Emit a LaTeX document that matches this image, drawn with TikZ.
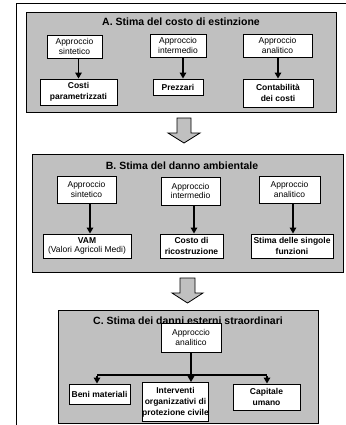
\documentclass[tikz,border=0pt]{standalone}
\usepackage{fontspec}
\setmainfont{Liberation Sans}
\usetikzlibrary{arrows.meta}
\definecolor{panelgray}{RGB}{192,192,192}
\begin{document}
\begin{tikzpicture}[x=1pt,y=-1pt,
  panel/.style={draw=black, line width=0.9pt, fill=panelgray, inner sep=0pt},
  box/.style={draw=black, line width=0.9pt, fill=white, inner sep=0pt, align=center, font=\fontsize{8.5}{9.8}\selectfont},
  bbox/.style={box, font=\fontsize{8.5}{10.8}\selectfont\bfseries},
  ttl/.style={font=\fontsize{10.5}{12}\selectfont\bfseries, inner sep=0pt},
  arr/.style={line width=1.8pt, -{Triangle[width=6.5pt,length=6pt]}},
  thick line/.style={line width=1.8pt},
  blockarrow/.style={draw=black, line width=0.8pt, fill=panelgray}
]
\useasboundingbox (0,0) rectangle (345,425);
\fill[white] (0,0) rectangle (345,425);
% outer frame
\draw[line width=0.9pt] (16,3) rectangle (360,440);

% ---------- Panel A ----------
\node[panel, minimum width=310pt, minimum height=100pt] (pA) at (181,62) {};
\node[ttl] (tA) at (181,22) {A. Stima del costo di estinzione};
\node[box, minimum width=55pt, minimum height=23pt] (a1) at (74.5,46.5) {Approccio\\sintetico};
\node[box, minimum width=56pt, minimum height=23pt] (a2) at (178,45.5) {Approccio\\intermedio};
\node[box, minimum width=69pt, minimum height=23pt] (a3) at (277.5,45.5) {Approccio\\analitico};
\node[bbox, minimum width=77pt, minimum height=26pt] (a4) at (78.5,92) {Costi\\parametrizzati};
\node[bbox, minimum width=50pt, minimum height=16pt] (a5) at (178,87) {Prezzari};
\node[bbox, minimum width=70pt, minimum height=28pt] (a6) at (278,93) {Contabilità\\dei costi};
\draw[arr] (a1.south -| a4.north) -- (a4.north);
\draw[arr] ([xshift=5pt]a2.south) -- ([xshift=5pt]a5.north);
\draw[arr] (a3.south -| a6.north) -- (a6.north);

% block arrow A -> B
\draw[blockarrow] (177,118) -- (191,118) -- (191,133) -- (200,133) -- (184,143) -- (168,133) -- (177,133) -- cycle;

% ---------- Panel B ----------
\node[panel, minimum width=311pt, minimum height=118pt] (pB) at (187.5,213) {};
\node[ttl] (tB) at (182,166) {B. Stima del danno ambientale};
\node[box, minimum width=59pt, minimum height=27pt] (b1) at (86.5,189.5) {Approccio\\sintetico};
\node[box, minimum width=59pt, minimum height=28pt] (b2) at (190.5,191) {Approccio\\intermedio};
\node[box, minimum width=61pt, minimum height=27pt] (b3) at (289.5,189.5) {Approccio\\analitico};
\node[box, minimum width=88pt, minimum height=24pt] (b4) at (87,246) {{\bfseries VAM}\\(Valori Agricoli Medi)};
\node[bbox, minimum width=63pt, minimum height=24pt] (b5) at (191.5,246) {Costo di\\ricostruzione};
\node[bbox, minimum width=82pt, minimum height=24pt] (b6) at (292,246) {Stima delle singole\\funzioni};
\draw[arr] ([xshift=3.5pt]b1.south) -- ([xshift=3pt]b4.north);
\draw[arr] ([xshift=3.5pt]b2.south) -- ([xshift=2.5pt]b5.north);
\draw[arr] ([xshift=3.5pt]b3.south) -- ([xshift=1pt]b6.north);

% block arrow B -> C
\draw[blockarrow] (180,278) -- (195,278) -- (195,293) -- (203,293) -- (187.5,303) -- (172,293) -- (180,293) -- cycle;

% ---------- Panel C ----------
\node[panel, minimum width=260pt, minimum height=113pt] (pC) at (188,366.5) {};
\node[ttl] (tC) at (188,321) {C. Stima dei danni esterni straordinari};
\node[box, minimum width=60pt, minimum height=29pt] (c1) at (191,337.5) {Approccio\\analitico};
\node[bbox, minimum width=61pt, minimum height=20pt] (c2) at (99.5,394) {Beni materiali};
\node[bbox, minimum width=63pt, minimum height=39pt] (c3) at (175.5,402) {Interventi\\organizzativi di\\protezione civile};
\node[bbox, minimum width=67pt, minimum height=26pt] (c4) at (266.5,397) {Capitale\\umano};
\coordinate (cL) at (97,375);
\coordinate (cR) at (267,375);
\draw[thick line] (c1.south) -- (c1.south |- cL);
\draw[thick line] (cL) -- (cR);
\draw[arr] ([yshift=-0.9pt]cL) -- (cL |- c2.north);
\draw[arr] (c1.south |- cL) -- (c1.south |- c3.north);
\draw[arr] ([yshift=-0.9pt]cR) -- (cR |- c4.north);
\end{tikzpicture}
\end{document}
